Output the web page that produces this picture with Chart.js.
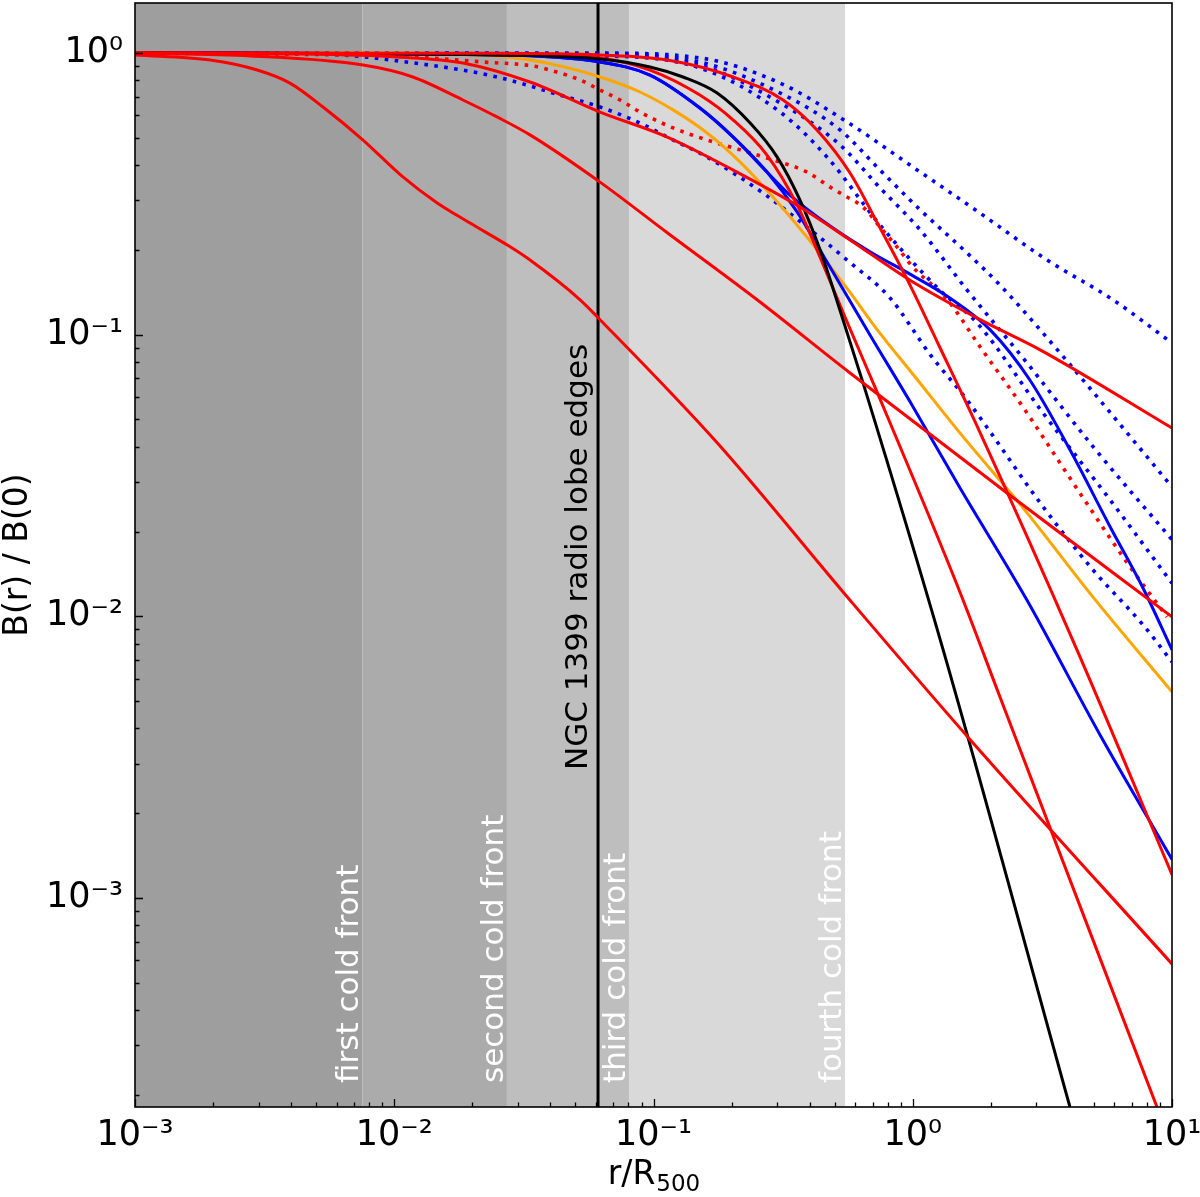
<!DOCTYPE html>
<html>
<head>
<meta charset="utf-8">
<script src="https://cdn.jsdelivr.net/npm/chart.js@4.4.1/dist/chart.umd.min.js"></script>
<style>
html,body{margin:0;padding:0;background:#ffffff;}
canvas{display:block;}
</style>
</head>
<body>
<canvas id="c" width="1200" height="1197" style="width:1200px;height:1197px;"></canvas>
<script>
// ---------- axes ----------
const xTickValues = [0.001, 0.01, 0.1, 1, 10];
const xTickLabels = ['10⁻³', '10⁻²', '10⁻¹', '10⁰', '10¹'];
const yTickValues = [0.001, 0.01, 0.1, 1];
const yTickLabels = ['10⁻³', '10⁻²', '10⁻¹', '10⁰'];
const xRange = [0.001, 10];
const yRange = [1.81e-4, 1.505];
const xTitleMain = 'r/R';
const xTitleSub = '500';
const yTitle = 'B(r) / B(0)';

// ---------- shaded cold-front regions ----------
const frontEdges = [0.00753, 0.0272, 0.0804, 0.548];
const frontShades = ['#9e9e9e', '#ababab', '#bebebe', '#d9d9d9'];
const frontLabels = ['first cold front', 'second cold front', 'third cold front', 'fourth cold front'];
const lobeEdge = 0.0611;
const lobeLabel = 'NGC 1399 radio lobe edges';

// ---------- curves: [r/R500, B(r)/B(0)] ----------
const redA = [[0.001,0.984],[0.00195,0.944],[0.00296,0.870],[0.00396,0.782],[0.00531,0.643],[0.00758,0.491],[0.0108,0.363],[0.0146,0.294],[0.0196,0.249],[0.0280,0.205],[0.0334,0.184],[0.0521,0.133],[0.0622,0.113],[0.176,0.0413],[0.573,0.0114],[1.63,0.00373],[10,0.000583]];
const redB = [[0.001,0.999],[0.00278,0.976],[0.00758,0.906],[0.0118,0.822],[0.0184,0.681],[0.0249,0.593],[0.0334,0.512],[0.0622,0.348],[0.113,0.230],[0.251,0.133],[0.573,0.0731],[2.31,0.0274],[10,0.00995]];
const redC = [[0.001,1.0],[0.00433,0.992],[0.0103,0.968],[0.0184,0.922],[0.0334,0.789],[0.0622,0.617],[0.113,0.503],[0.203,0.384],[0.367,0.284],[0.573,0.217],[0.976,0.156],[1.82,0.113],[3.10,0.0883],[10,0.0466]];
const redE = [[0.001,1.0],[0.0256,0.998],[0.0622,0.984],[0.113,0.944],[0.203,0.822],[0.316,0.681],[0.427,0.533],[0.573,0.375],[0.748,0.239],[0.976,0.150],[1.27,0.0904],[1.82,0.0448],[4.30,0.0076],[10,0.00121]];
const redF = [[0.001,1.0],[0.0256,0.992],[0.0622,0.960],[0.0969,0.870],[0.151,0.709],[0.203,0.578],[0.274,0.434],[0.358,0.289],[0.427,0.200],[0.558,0.111],[0.728,0.0626],[1.52,0.0122],[2.17,0.00517],[8.75,0.000181]];
const black = [[0.001,1.0],[0.0256,0.984],[0.0622,0.952],[0.0969,0.892],[0.130,0.822],[0.176,0.721],[0.236,0.564],[0.300,0.427],[0.367,0.301],[0.439,0.200],[0.524,0.122],[0.643,0.0674],[1.31,0.0076],[4.04,0.000181]];
const orange = [[0.001,1.0],[0.0105,0.999],[0.0334,0.944],[0.0622,0.822],[0.0887,0.727],[0.119,0.628],[0.161,0.520],[0.216,0.410],[0.289,0.308],[0.391,0.222],[0.558,0.146],[0.748,0.101],[0.993,0.0731],[1.52,0.0448],[2.76,0.0233],[4.96,0.0117],[10,0.00539]];
const blueA = [[0.001,1.0],[0.0256,0.984],[0.0622,0.929],[0.0969,0.835],[0.151,0.638],[0.203,0.503],[0.274,0.378],[0.358,0.273],[0.467,0.181],[0.684,0.0997],[0.993,0.0563],[1.52,0.0286],[2.76,0.0114],[5.28,0.00379],[10,0.00137]];
const blueB = [[0.001,1.0],[0.0256,0.984],[0.0622,0.929],[0.0969,0.835],[0.151,0.638],[0.203,0.503],[0.274,0.378],[0.336,0.313],[0.480,0.243],[0.684,0.197],[0.976,0.164],[1.39,0.135],[1.99,0.104],[2.83,0.0690],[4.04,0.0390],[5.77,0.0208],[7.73,0.0126],[10,0.0076]];
const redDot = [[0.001,1.0],[0.0118,0.968],[0.022,0.929],[0.0343,0.899],[0.0424,0.856],[0.0521,0.802],[0.0622,0.739],[0.0743,0.681],[0.0887,0.617],[0.119,0.542],[0.161,0.491],[0.216,0.453],[0.289,0.417],[0.391,0.378],[0.480,0.334],[0.558,0.308],[0.643,0.284],[0.748,0.241],[0.869,0.205],[1.00,0.174],[1.36,0.133],[1.82,0.0904],[2.76,0.0527],[3.70,0.0350],[4.96,0.0233],[6.71,0.0155],[9.57,0.00995]];
const blueDot1 = [[0.001,1.0],[0.00433,0.999],[0.0137,0.906],[0.0249,0.822],[0.0436,0.709],[0.0622,0.643],[0.0887,0.564],[0.119,0.491],[0.161,0.427],[0.265,0.318],[0.391,0.241],[0.558,0.184],[0.817,0.135],[1.17,0.0847],[1.62,0.0586],[3.18,0.0245],[4.96,0.0146],[7.73,0.00932],[10,0.00689]];
const blueDot2 = [[0.001,1.0],[0.0622,0.999],[0.151,0.961],[0.308,0.782],[0.558,0.569],[1.00,0.394],[1.82,0.270],[3.30,0.184],[5.92,0.133],[10,0.0934]];
const blueDot3 = [[0.001,1.0],[0.0622,0.992],[0.151,0.929],[0.308,0.721],[0.524,0.533],[0.748,0.384],[1.07,0.277],[1.62,0.195],[2.17,0.150],[3.70,0.0861],[6.71,0.0448],[10,0.0288]];
const blueDot4 = [[0.001,1.0],[0.0622,0.984],[0.151,0.906],[0.308,0.665],[0.524,0.472],[0.748,0.332],[1.07,0.235],[1.62,0.144],[2.76,0.0793],[4.96,0.0400],[10,0.0187]];
const blueDot5 = [[0.001,1.0],[0.0622,0.976],[0.151,0.885],[0.308,0.617],[0.467,0.427],[0.748,0.245],[1.27,0.144],[1.77,0.110],[3.18,0.0527],[5.77,0.0259],[10,0.0131]];

const FONT = '"DejaVu Sans", sans-serif';
const toXY = a => a.map(p => ({x: p[0], y: p[1]}));
function solid(label, pts, color) {
  return {label, data: toXY(pts), borderColor: color, backgroundColor: color, borderWidth: 3,
          showLine: true, pointRadius: 0, pointHoverRadius: 0, fill: false, cubicInterpolationMode: 'monotone'};
}
function dotted(label, pts, color) {
  const d = solid(label, pts, color);
  d.borderWidth = 3.6; d.borderDash = [3.6, 6.4];
  return d;
}

const datasets = [
  solid('red C', redC, '#ff0000'),
  solid('red B', redB, '#ff0000'),
  solid('red A', redA, '#ff0000'),
  solid('red E', redE, '#ff0000'),
  solid('black', black, '#000000'),
  solid('red F', redF, '#ff0000'),
  solid('blue A', blueA, '#0000ff'),
  solid('blue B', blueB, '#0000ff'),
  solid('orange', orange, '#ffa500'),
  dotted('red dotted', redDot, '#ff0000'),
  dotted('blue dotted 1', blueDot1, '#0000ff'),
  dotted('blue dotted 2', blueDot2, '#0000ff'),
  dotted('blue dotted 3', blueDot3, '#0000ff'),
  dotted('blue dotted 4', blueDot4, '#0000ff'),
  dotted('blue dotted 5', blueDot5, '#0000ff'),
  {label: 'lobe', data: [{x: lobeEdge, y: yRange[0]}, {x: lobeEdge, y: yRange[1]}],
   borderColor: '#000', borderWidth: 3, showLine: true, pointRadius: 0, fill: false}
];

const decor = {
  id: 'decor',
  beforeDatasetsDraw(chart) {
    const {ctx, chartArea: a, scales: {x}} = chart;
    ctx.save();
    let prev = a.left;
    frontEdges.forEach((e, i) => {
      const px = x.getPixelForValue(e);
      ctx.fillStyle = frontShades[i];
      ctx.fillRect(prev, a.top, px - prev, a.bottom - a.top);
      prev = px;
    });
    ctx.font = '31px ' + FONT;
    ctx.textAlign = 'left';
    ctx.textBaseline = 'alphabetic';
    ctx.fillStyle = '#ffffff';
    frontEdges.forEach((e, i) => {
      const px = x.getPixelForValue(e);
      ctx.save();
      ctx.translate(px - 4, a.bottom - 24);
      ctx.rotate(-Math.PI / 2);
      ctx.fillText(frontLabels[i], 0, 0);
      ctx.restore();
    });
    const lx = x.getPixelForValue(lobeEdge);
    ctx.fillStyle = '#000000';
    ctx.save();
    ctx.translate(lx - 11, a.bottom - 337);
    ctx.rotate(-Math.PI / 2);
    ctx.fillText(lobeLabel, 0, 0);
    ctx.restore();
    ctx.restore();
  },
  afterDatasetsDraw(chart) {
    const {ctx, chartArea: a, scales: {x, y}} = chart;
    ctx.save();
    ctx.strokeStyle = '#000';
    ctx.lineWidth = 1.3;
    ctx.beginPath();
    for (let k = -4; k <= 1; k++) {
      for (let m = 1; m <= 9; m++) {
        const v = m * Math.pow(10, k);
        const L = m === 1 ? 8 : 4.5;
        if (v >= x.min * 0.999 && v <= x.max * 1.001) {
          const px = Math.round(x.getPixelForValue(v)) + 0.5;
          ctx.moveTo(px, a.bottom); ctx.lineTo(px, a.bottom - L);
        }
        if (v >= y.min * 0.999 && v <= y.max * 1.001) {
          const py = Math.round(y.getPixelForValue(v)) + 0.5;
          ctx.moveTo(a.left, py); ctx.lineTo(a.left + L, py);
        }
      }
    }
    ctx.stroke();
    ctx.lineWidth = 1.6;
    ctx.strokeRect(a.left, a.top, a.right - a.left, a.bottom - a.top);
    // x axis title with subscript
    ctx.fillStyle = '#000';
    ctx.textBaseline = 'alphabetic';
    ctx.textAlign = 'left';
    ctx.font = '33px ' + FONT;
    const w1 = ctx.measureText(xTitleMain).width;
    ctx.font = '23px ' + FONT;
    const w2 = ctx.measureText(xTitleSub).width;
    const cx = (a.left + a.right) / 2;
    const x0 = cx - (w1 + w2) / 2;
    const base = chart.height - 13;
    ctx.font = '33px ' + FONT;
    ctx.fillText(xTitleMain, x0, base);
    ctx.font = '23px ' + FONT;
    ctx.fillText(xTitleSub, x0 + w1 + 1, base + 7);
    ctx.restore();
  }
};

Chart.defaults.font.family = FONT;
new Chart(document.getElementById('c'), {
  type: 'scatter',
  data: {datasets},
  options: {
    responsive: false,
    animation: false,
    devicePixelRatio: 1,
    layout: {padding: {top: 3, right: 28, bottom: 0, left: 0}},
    plugins: {legend: {display: false}, tooltip: {enabled: false}},
    scales: {
      x: {
        type: 'logarithmic', position: 'bottom', min: xRange[0], max: xRange[1],
        grid: {display: false, drawTicks: false}, border: {display: false},
        afterBuildTicks: s => { s.ticks = xTickValues.map(v => ({value: v})); },
        afterFit: s => { s.height = 90; s.paddingLeft = 0; s.paddingRight = 0; },
        ticks: {autoSkip: false, maxRotation: 0, minRotation: 0, padding: 8, color: '#000',
                font: {family: FONT, size: 35}, callback: (v, i) => xTickLabels[i]},
        title: {display: false}
      },
      y: {
        type: 'logarithmic', position: 'left', min: yRange[0], max: yRange[1],
        grid: {display: false, drawTicks: false}, border: {display: false},
        afterBuildTicks: s => { s.ticks = yTickValues.map(v => ({value: v})); },
        afterFit: s => { s.width = 135; s.paddingTop = 0; s.paddingBottom = 0; },
        ticks: {autoSkip: false, padding: 12, color: '#000',
                font: {family: FONT, size: 35}, callback: (v, i) => yTickLabels[i]},
        title: {display: true, text: yTitle, color: '#000', font: {family: FONT, size: 33, lineHeight: 1},
                padding: {top: 2, bottom: 0}}
      }
    }
  },
  plugins: [decor]
});
</script>
</body>
</html>
